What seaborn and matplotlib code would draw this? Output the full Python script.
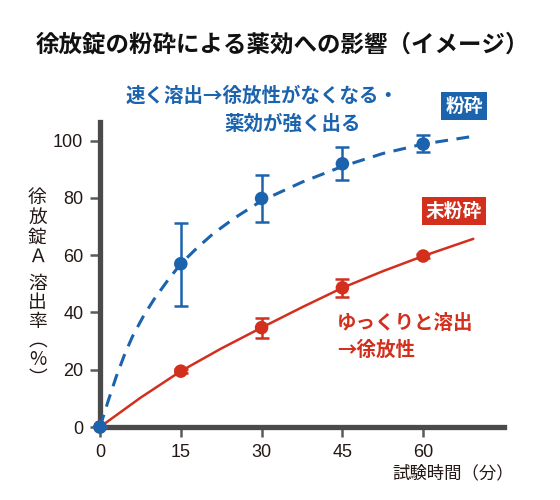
import numpy as np
import matplotlib
matplotlib.use("Agg")
import matplotlib.pyplot as plt
import seaborn as sns

# 測定点（分, 溶出率%）
times = [0, 15, 30, 45, 60]

powder_mean = [0, 57.0, 79.8, 91.9, 98.8]
powder_low = [0, 42.4, 71.6, 86.2, 95.9]
powder_high = [0, 71.4, 88.0, 97.7, 102.1]

intact_mean = [0, 19.5, 34.7, 48.6, 59.7]
intact_low = [0, 18.8, 31.2, 45.3, 59.0]
intact_high = [0, 20.2, 38.0, 51.7, 60.4]

# 曲線（図から読み取った点）
powder_curve_t = [0, 1.5, 3, 4.5, 6, 8, 10, 12.5, 15, 18, 21, 25, 30, 37.5, 45, 52.5, 60, 69.3]
powder_curve_y = [0, 9, 17.5, 25, 31.5, 38.5, 44.5, 51, 57, 62.5, 67.5, 73, 79, 85.5, 91, 95.5, 98.8, 101.5]

intact_curve_t = [0, 7.5, 15, 22.5, 30, 37.5, 45, 52.5, 60, 69.3]
intact_curve_y = [0, 10.2, 19.5, 27.4, 34.7, 41.8, 48.6, 54.4, 59.7, 65.7]

x_ticks = [0, 15, 30, 45, 60]
y_ticks = [0, 20, 40, 60, 80, 100]

title = "徐放錠の粉砕による薬効への影響（イメージ）"
ylabel_top = ["徐", "放", "錠", "Ａ"]
ylabel_bottom = ["溶", "出", "率", "︵", "%", "︶"]
xlabel = "試験時間（分）"

BLUE = "#1c63ae"
RED = "#d32f1d"
INK = "#231815"
AXIS = "#4a4a4a"

sns.set_theme(style="ticks")
plt.rcParams['font.family'] = ['Noto Sans CJK JP', 'DejaVu Sans']

W, H = 560, 500
fig = plt.figure(figsize=(W / 100, H / 100), dpi=100)
ax = fig.add_axes([100 / W, 73 / H, 404 / W, 305 / H])

def px(x, y):
    return x / W, 1 - y / H

# 未粉砕
sns.lineplot(x=intact_curve_t, y=intact_curve_y, ax=ax, color=RED, lw=1.8, zorder=3)
im = np.array(intact_mean)
ax.errorbar(times, im, yerr=[im - np.array(intact_low), np.array(intact_high) - im],
            fmt='none', ecolor=RED, elinewidth=1.8, capsize=4.8, capthick=1.8, zorder=3)
sns.scatterplot(x=times, y=intact_mean, ax=ax, color=RED, s=95, edgecolor='none',
                zorder=4, clip_on=False)

# 粉砕
sns.lineplot(x=powder_curve_t, y=powder_curve_y, ax=ax, color=BLUE, lw=2.2,
             linestyle=(0, (4.2, 2.8)), zorder=5)
pm = np.array(powder_mean)
ax.errorbar(times, pm, yerr=[pm - np.array(powder_low), np.array(powder_high) - pm],
            fmt='none', ecolor=BLUE, elinewidth=1.8, capsize=4.8, capthick=1.8, zorder=5)
sns.scatterplot(x=times, y=powder_mean, ax=ax, color=BLUE, s=95, edgecolor='none',
                zorder=6, clip_on=False)

ax.set_xlim(0, 75)
ax.set_ylim(0, 106.5)
ax.set_xticks(x_ticks)
ax.set_yticks(y_ticks)
ax.set_xlabel("")
ax.set_ylabel("")
sns.despine(ax=ax)
for s in ["left", "bottom"]:
    ax.spines[s].set_linewidth(3.8)
    ax.spines[s].set_color(AXIS)
ax.tick_params(axis='both', direction='out', length=7, width=1.8, color="#5a5a5a",
               labelsize=13, labelcolor=INK, pad=5)
for lab in ax.get_xticklabels() + ax.get_yticklabels():
    lab.set_family(['Liberation Sans', 'DejaVu Sans'])

# タイトル
fig.text(*px(282, 44), title, ha='center', va='center', fontsize=16.9,
         fontweight='bold', color="#111111")

# 縦書きの軸ラベル
fig.text(*px(37.5, 227), "\n".join(ylabel_top), ha='center', va='center',
         multialignment='center', linespacing=0.92, fontsize=13.5, color=INK)
fig.text(*px(37.5, 331), "\n".join(ylabel_bottom), ha='center', va='center',
         multialignment='center', linespacing=0.875, fontsize=13.5, color=INK)

fig.text(*px(514, 473.5), xlabel, ha='right', va='center', fontsize=12.5, color=INK)

# 注釈
fig.text(*px(126, 96), "速く溶出→徐放性がなくなる・", ha='left', va='center',
         fontsize=14, fontweight='bold', color=BLUE)
fig.text(*px(224, 124), "薬効が強く出る", ha='left', va='center',
         fontsize=14, fontweight='bold', color=BLUE)
fig.text(*px(337, 323.5), "ゆっくりと溶出", ha='left', va='center',
         fontsize=14, fontweight='bold', color=RED)
fig.text(*px(337, 350), "→徐放性", ha='left', va='center',
         fontsize=14, fontweight='bold', color=RED)

fig.text(*px(464, 106), "粉砕", ha='center', va='center', fontsize=13.5,
         fontweight='bold', color='white',
         bbox=dict(boxstyle='square,pad=0.22', fc=BLUE, ec='none'))
fig.text(*px(454, 211), "末粉砕", ha='center', va='center', fontsize=13.5,
         fontweight='bold', color='white',
         bbox=dict(boxstyle='square,pad=0.22', fc=RED, ec='none'))

fig.savefig("out.png", dpi=100)
